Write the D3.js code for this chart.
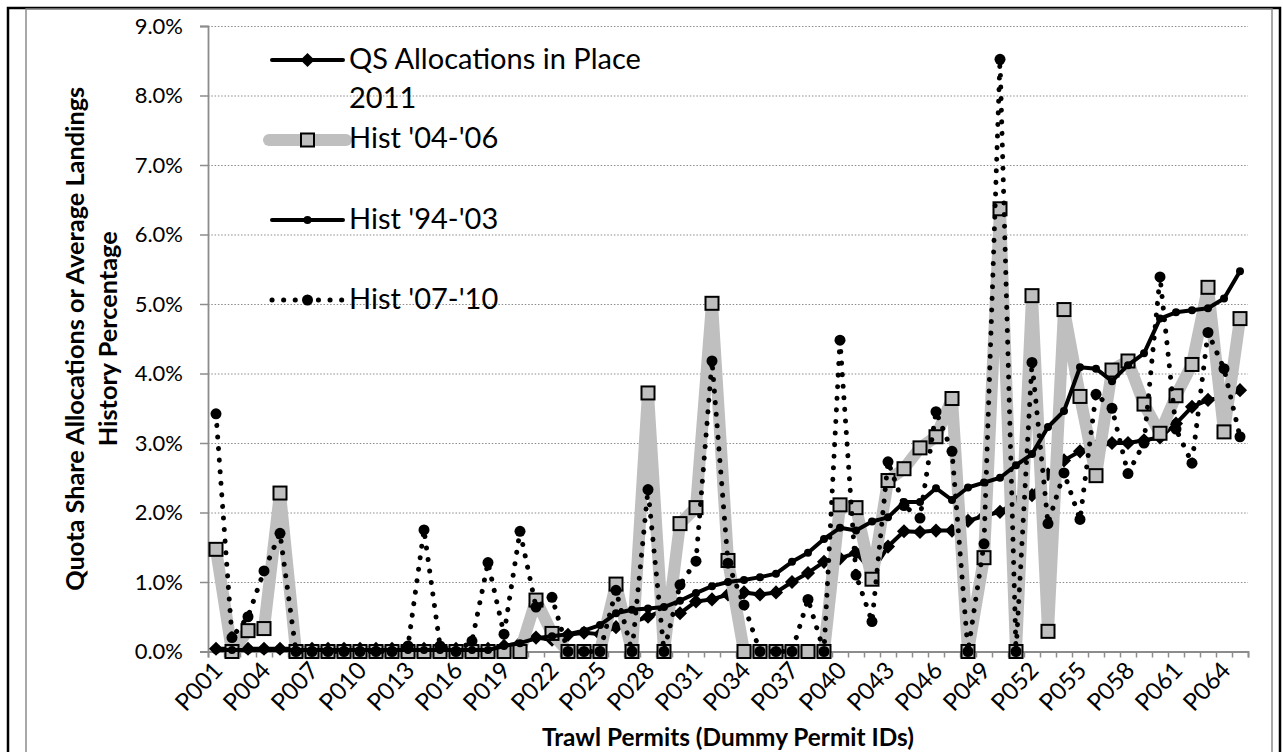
<!DOCTYPE html>
<html>
<head>
<meta charset="utf-8">
<script src="https://cdn.jsdelivr.net/npm/d3@7/dist/d3.min.js"></script>
<style>
  body { margin: 0; background: #fff; }
  svg text { font-family: Lato, "Open Sans", sans-serif; fill: #000; }
</style>
</head>
<body>
<svg id="chart" width="1283" height="752"></svg>
<script>
// permit ids P001..P065
const permits = d3.range(1, 66).map(i => 'P' + String(i).padStart(3, '0'));

// percentages
const qsAlloc2011 = [0.04,0.04,0.04,0.04,0.04,0.04,0.04,0.04,0.04,0.04,
                     0.04,0.04,0.04,0.04,0.04,0.04,0.04,0.04,0.08,0.12,
                     0.2,0.17,0.24,0.27,0.25,0.35,0.42,0.5,0.6,0.55,
                     0.72,0.75,0.82,0.85,0.82,0.85,1.0,1.13,1.29,1.34,
                     1.42,1.15,1.51,1.73,1.72,1.74,1.74,1.88,1.95,2.01,
                     2.15,2.25,2.55,2.75,2.88,2.95,3.0,3.0,3.04,3.08,
                     3.28,3.52,3.62,3.66,3.76];
const hist0406 = [1.47,0,0.30,0.33,2.28,0,0,0,0,0,
                  0,0,0,0,0,0,0,0,0,0,
                  0.74,0.26,0,0,0,0.97,0,3.72,0,1.84,
                  2.07,5.01,1.31,0,0,0,0,0,0,2.11,
                  2.07,1.04,2.46,2.63,2.93,3.09,3.64,0,1.35,6.37,
                  0,5.12,0.29,4.92,3.67,2.53,4.05,4.18,3.56,3.14,
                  3.68,4.13,5.24,3.16,4.79];
const hist9403 = [0.02,0.02,0.02,0.02,0.02,0.02,0.02,0.02,0.02,0.02,
                  0.02,0.02,0.02,0.02,0.02,0.02,0.02,0.02,0.08,0.12,
                  0.19,0.22,0.25,0.3,0.38,0.55,0.6,0.62,0.64,0.73,
                  0.84,0.94,1.0,1.03,1.07,1.12,1.29,1.42,1.62,1.78,
                  1.74,1.87,1.93,2.15,2.15,2.35,2.18,2.36,2.43,2.5,
                  2.68,2.84,3.23,3.46,4.09,4.07,3.89,4.12,4.29,4.79,
                  4.88,4.91,4.94,5.08,5.47];
const hist0710 = [3.42,0.2,0.5,1.16,1.70,0,0,0,0,0,
                  0,0,0.08,1.75,0.08,0,0.15,1.28,0.25,1.73,
                  0.64,0.78,0,0,0,0.88,0,2.33,0,0.96,
                  1.30,4.18,1.27,0.67,0,0,0,0.75,0,4.48,
                  1.10,0.43,2.73,2.1,1.92,3.45,2.88,0,1.55,8.52,
                  0,4.16,1.84,2.57,1.90,3.70,3.5,2.56,3.0,5.39,
                  3.2,2.71,4.59,4.07,3.09];

const yTicks = [0,1,2,3,4,5,6,7,8,9];
const xLabelPermits = permits.filter((p, i) => i % 3 === 0);

const svg = d3.select('#chart');

// scale a text's font so that it spans the given width
function fitWidth(sel, target){
  let fs = parseFloat(sel.attr('font-size'));
  let w = sel.node().getComputedTextLength();
  if(w > 0) sel.attr('font-size', (fs*target/w).toFixed(2) + 'px');
  return sel;
}

// frame
svg.append('rect')
   .attr('x', 8).attr('y', 8)
   .attr('width', 1272).attr('height', 760)
   .attr('fill', 'none')
   .attr('stroke', '#000')
   .attr('stroke-width', 2.5);
svg.append('rect')
   .attr('x', 26).attr('y', 9)
   .attr('width', 1246).attr('height', 760)
   .attr('fill', 'none')
   .attr('stroke', '#8c8c8c')
   .attr('stroke-width', 1.5);

const plot = {left: 208, right: 1248, top: 26, bottom: 651.5};

let x = d3.scaleBand()
          .domain(permits)
          .range([plot.left, plot.right])
          .padding(0);
let xEdge = d3.scaleLinear()
              .domain([0, permits.length])
              .range([plot.left, plot.right]);
let y = d3.scaleLinear()
          .domain([0, 9])
          .range([plot.bottom, plot.top]);
const cx = p => x(p) + x.bandwidth()/2;

// grid lines
svg.append('g')
   .attr('transform', `translate(${plot.left},0)`)
   .call(d3.axisLeft(y).tickValues(yTicks.slice(1)).tickSize(-(plot.right-plot.left)).tickFormat(''))
   .call(g => g.select('.domain').remove())
   .call(g => g.selectAll('line')
               .attr('stroke', '#8c8c8c')
               .attr('stroke-width', 1.2)
               .attr('stroke-dasharray', '1.5,1.8'));

// y axis
svg.append('g')
   .attr('transform', `translate(${plot.left},0)`)
   .call(d3.axisLeft(y).tickValues(yTicks).tickSize(8).tickPadding(17)
           .tickFormat(d => d.toFixed(1) + '%'))
   .call(g => g.select('.domain').attr('stroke', '#8c8c8c').attr('stroke-width', 1.8))
   .call(g => g.selectAll('line').attr('stroke', '#8c8c8c').attr('stroke-width', 1.5))
   .call(g => g.selectAll('text').attr('font-size', '22px')
               .style('font-family', 'Lato, sans-serif'));

// x axis: boundary ticks
svg.append('g')
   .attr('transform', `translate(0,${plot.bottom})`)
   .call(d3.axisBottom(xEdge).ticks(permits.length).tickSize(6).tickFormat(''))
   .call(g => g.select('.domain').attr('stroke', '#8c8c8c').attr('stroke-width', 1.8))
   .call(g => g.selectAll('line').attr('stroke', '#8c8c8c').attr('stroke-width', 1.5));

// x axis: labels
svg.append('g')
   .attr('transform', `translate(0,${plot.bottom})`)
   .call(d3.axisBottom(x).tickValues(xLabelPermits).tickSize(0))
   .call(g => g.select('.domain').remove())
   .call(g => g.selectAll('text')
               .attr('x', 0).attr('y', 0).attr('dy', 0)
               .attr('text-anchor', 'end')
               .attr('transform', 'translate(8,20) rotate(-47)')
               .attr('font-size', '24px')
               .style('font-family', 'Lato, sans-serif'));

// axis titles
fitWidth(svg.append('text')
   .attr('x', (plot.left + plot.right)/2)
   .attr('y', 746)
   .attr('text-anchor', 'middle')
   .attr('font-weight', 'bold')
   .attr('font-size', '22px')
   .text('Trawl Permits (Dummy Permit IDs)'), 372);

const yMid = (plot.top + plot.bottom)/2;
const yTitle1 = svg.append('text')
   .attr('transform', `translate(84,${yMid}) rotate(-90)`)
   .attr('text-anchor', 'middle')
   .attr('font-weight', 'bold')
   .attr('font-size', '22px')
   .text('Quota Share Allocations or Average Landings');
fitWidth(yTitle1, 504);
svg.append('text')
   .attr('transform', `translate(117,${yMid}) rotate(-90)`)
   .attr('text-anchor', 'middle')
   .attr('font-weight', 'bold')
   .attr('font-size', yTitle1.attr('font-size'))
   .text('History Percentage');

// series
const line = d3.line()
               .x((d, i) => cx(permits[i]))
               .y(d => y(d));

const diamond = d3.symbol().type(d3.symbolDiamond2).size(128);

// QS allocations
svg.append('path')
   .attr('d', line(qsAlloc2011))
   .attr('fill', 'none')
   .attr('stroke', '#000')
   .attr('stroke-width', 4)
   .attr('stroke-linejoin', 'round');
svg.append('g').selectAll('path')
   .data(qsAlloc2011)
   .enter()
   .append('path')
   .attr('d', diamond)
   .attr('transform', (d, i) => `translate(${cx(permits[i])},${y(d)})`)
   .attr('fill', '#000');

// Hist '04-'06
svg.append('path')
   .attr('d', line(hist0406))
   .attr('fill', 'none')
   .attr('stroke', '#bfbfbf')
   .attr('stroke-width', 12)
   .attr('stroke-linejoin', 'round')
   .attr('stroke-linecap', 'round');
svg.append('g').selectAll('rect')
   .data(hist0406)
   .enter()
   .append('rect')
   .attr('x', (d, i) => cx(permits[i]) - 6.5)
   .attr('y', d => y(d) - 6.5)
   .attr('width', 13)
   .attr('height', 13)
   .attr('fill', '#bfbfbf')
   .attr('stroke', '#000')
   .attr('stroke-width', 2);

// Hist '94-'03
svg.append('path')
   .attr('d', line(hist9403))
   .attr('fill', 'none')
   .attr('stroke', '#000')
   .attr('stroke-width', 4)
   .attr('stroke-linejoin', 'round');
svg.append('g').selectAll('circle')
   .data(hist9403)
   .enter()
   .append('circle')
   .attr('cx', (d, i) => cx(permits[i]))
   .attr('cy', d => y(d))
   .attr('r', 4)
   .attr('fill', '#000');

// Hist '07-'10
svg.append('path')
   .attr('d', line(hist0710))
   .attr('fill', 'none')
   .attr('stroke', '#000')
   .attr('stroke-width', 5)
   .attr('stroke-linecap', 'round')
   .attr('stroke-dasharray', '0.1,11.5');
svg.append('g').selectAll('circle')
   .data(hist0710)
   .enter()
   .append('circle')
   .attr('cx', (d, i) => cx(permits[i]))
   .attr('cy', d => y(d))
   .attr('r', 5.5)
   .attr('fill', '#000');

// legend
const legend = svg.append('g').attr('transform', 'translate(272,0)');
const legX = d3.scaleLinear().domain([0, 1]).range([0, 71]);

legend.append('line')
   .attr('x1', legX(0)).attr('x2', legX(1)).attr('y1', 60).attr('y2', 60)
   .attr('stroke', '#000').attr('stroke-width', 4).attr('stroke-linecap', 'round');
legend.append('path')
   .attr('d', diamond)
   .attr('transform', `translate(${legX(0.5)},60)`);
legend.append('line')
   .attr('x1', legX(0) - 3).attr('x2', legX(1) + 3).attr('y1', 140).attr('y2', 140)
   .attr('stroke', '#bfbfbf').attr('stroke-width', 12).attr('stroke-linecap', 'round');
legend.append('rect')
   .attr('x', legX(0.5) - 6.5).attr('y', 133.5).attr('width', 13).attr('height', 13)
   .attr('fill', '#bfbfbf').attr('stroke', '#000').attr('stroke-width', 2);
legend.append('line')
   .attr('x1', legX(0)).attr('x2', legX(1)).attr('y1', 220).attr('y2', 220)
   .attr('stroke', '#000').attr('stroke-width', 4).attr('stroke-linecap', 'round');
legend.append('circle')
   .attr('cx', legX(0.5)).attr('cy', 220).attr('r', 4);
legend.append('line')
   .attr('x1', legX(0)).attr('x2', legX(1)).attr('y1', 300).attr('y2', 300)
   .attr('stroke', '#000').attr('stroke-width', 5).attr('stroke-linecap', 'round')
   .attr('stroke-dasharray', '0.1,11.5');
legend.append('circle')
   .attr('cx', legX(0.5)).attr('cy', 300).attr('r', 5.5);

const legendText = [
  {y: 69, t: 'QS Allocations in Place'},
  {y: 108, t: '2011'},
  {y: 148, t: "Hist '04-'06"},
  {y: 229, t: "Hist '94-'03"},
  {y: 309, t: "Hist '07-'10"}
];
const legTexts = legend.selectAll('text.leg')
   .data(legendText)
   .enter()
   .append('text')
   .attr('class', 'leg')
   .attr('x', 77)
   .attr('y', d => d.y)
   .attr('font-size', '27px')
   .text(d => d.t);
fitWidth(legTexts.filter((d, i) => i === 0), 292);
legTexts.attr('font-size', legTexts.filter((d, i) => i === 0).attr('font-size'));
</script>
</body>
</html>
